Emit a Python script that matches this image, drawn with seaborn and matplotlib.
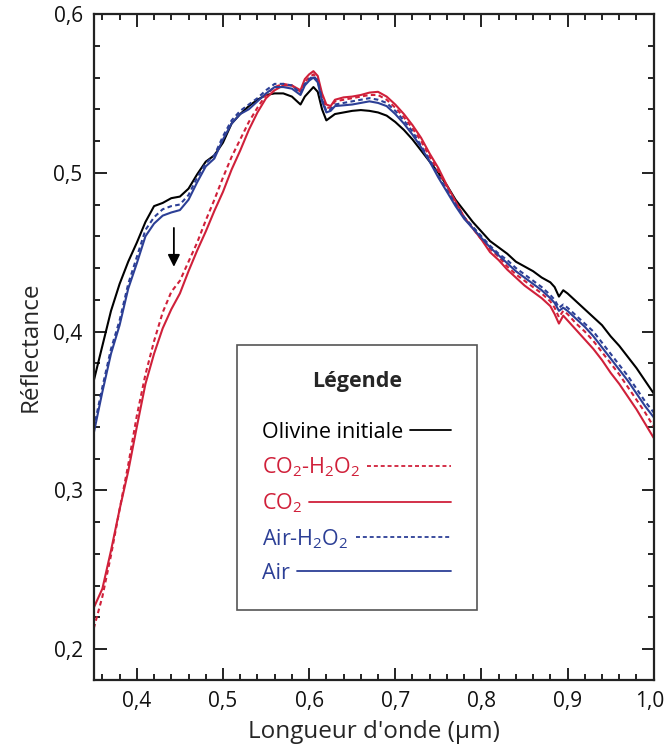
import pandas as pd
import matplotlib
matplotlib.use("Agg")
import matplotlib.pyplot as plt
import matplotlib.transforms as mtransforms
from matplotlib.lines import Line2D
from matplotlib.ticker import MultipleLocator, FuncFormatter
import seaborn as sns

# Longueurs d'onde (µm)
longueur_onde = [0.35, 0.36, 0.37, 0.38, 0.39, 0.40, 0.41, 0.42, 0.43, 0.44,
                 0.45, 0.46, 0.47, 0.48, 0.49, 0.50, 0.51, 0.52, 0.53, 0.54,
                 0.55, 0.56, 0.57, 0.58, 0.59, 0.595, 0.60, 0.605, 0.61, 0.615,
                 0.62, 0.625, 0.63, 0.64, 0.65, 0.66, 0.67, 0.68, 0.69, 0.70,
                 0.71, 0.72, 0.73, 0.74, 0.75, 0.76, 0.77, 0.78, 0.79, 0.80,
                 0.81, 0.82, 0.83, 0.84, 0.85, 0.86, 0.87, 0.88, 0.885, 0.89,
                 0.895, 0.90, 0.91, 0.92, 0.93, 0.94, 0.95, 0.96, 0.97, 0.98,
                 0.99, 1.00]

olivine_initiale = [0.369, 0.391, 0.413, 0.430, 0.444, 0.456, 0.469, 0.479, 0.481, 0.484,
                    0.485, 0.490, 0.499, 0.507, 0.511, 0.519, 0.531, 0.537, 0.542, 0.546,
                    0.549, 0.550, 0.550, 0.548, 0.543, 0.548, 0.551, 0.554, 0.551, 0.540,
                    0.533, 0.535, 0.537, 0.538, 0.539, 0.5395, 0.539, 0.538, 0.536, 0.532,
                    0.527, 0.521, 0.514, 0.507, 0.500, 0.492, 0.483, 0.476, 0.469, 0.463,
                    0.457, 0.453, 0.449, 0.444, 0.441, 0.438, 0.434, 0.431, 0.428, 0.422,
                    0.426, 0.424, 0.419, 0.414, 0.409, 0.404, 0.397, 0.391, 0.384, 0.377,
                    0.369, 0.361]

co2_h2o2 = [0.213, 0.233, 0.259, 0.288, 0.316, 0.347, 0.373, 0.394, 0.412, 0.425,
            0.432, 0.444, 0.456, 0.470, 0.483, 0.497, 0.510, 0.521, 0.532, 0.541,
            0.549, 0.554, 0.556, 0.555, 0.551, 0.557, 0.560, 0.562, 0.559, 0.548,
            0.541, 0.541, 0.545, 0.546, 0.547, 0.548, 0.549, 0.549, 0.546, 0.541,
            0.535, 0.528, 0.520, 0.510, 0.501, 0.491, 0.481, 0.472, 0.465, 0.458,
            0.452, 0.447, 0.441, 0.436, 0.432, 0.428, 0.424, 0.419, 0.415, 0.409,
            0.413, 0.411, 0.405, 0.400, 0.394, 0.387, 0.380, 0.373, 0.365, 0.357,
            0.349, 0.340]

co2 = [0.226, 0.238, 0.262, 0.288, 0.312, 0.340, 0.367, 0.386, 0.402, 0.414,
       0.424, 0.438, 0.451, 0.463, 0.476, 0.488, 0.502, 0.514, 0.527, 0.538,
       0.547, 0.552, 0.555, 0.555, 0.552, 0.559, 0.562, 0.564, 0.561, 0.550,
       0.543, 0.542, 0.546, 0.5475, 0.548, 0.549, 0.5505, 0.551, 0.548, 0.543,
       0.537, 0.530, 0.522, 0.512, 0.503, 0.492, 0.482, 0.472, 0.465, 0.458,
       0.450, 0.445, 0.439, 0.434, 0.429, 0.425, 0.421, 0.416, 0.411, 0.405,
       0.410, 0.407, 0.401, 0.395, 0.389, 0.382, 0.374, 0.367, 0.359, 0.351,
       0.342, 0.333]

air_h2o2 = [0.339, 0.365, 0.389, 0.407, 0.430, 0.447, 0.464, 0.472, 0.477, 0.479,
            0.480, 0.486, 0.497, 0.506, 0.511, 0.523, 0.533, 0.539, 0.543, 0.547,
            0.552, 0.556, 0.556, 0.555, 0.550, 0.556, 0.559, 0.561, 0.558, 0.546,
            0.539, 0.540, 0.543, 0.544, 0.545, 0.546, 0.547, 0.546, 0.544, 0.539,
            0.533, 0.526, 0.517, 0.508, 0.498, 0.489, 0.480, 0.472, 0.466, 0.460,
            0.454, 0.449, 0.445, 0.440, 0.436, 0.432, 0.428, 0.423, 0.420, 0.415,
            0.417, 0.415, 0.410, 0.405, 0.400, 0.393, 0.386, 0.379, 0.372, 0.364,
            0.356, 0.349]

air = [0.336, 0.362, 0.386, 0.404, 0.427, 0.443, 0.460, 0.468, 0.473, 0.475,
       0.4765, 0.483, 0.494, 0.504, 0.509, 0.521, 0.531, 0.537, 0.540, 0.545,
       0.550, 0.554, 0.554, 0.553, 0.549, 0.555, 0.558, 0.560, 0.557, 0.545,
       0.538, 0.539, 0.542, 0.5425, 0.543, 0.544, 0.545, 0.544, 0.542, 0.537,
       0.531, 0.524, 0.516, 0.507, 0.497, 0.488, 0.479, 0.471, 0.465, 0.459,
       0.453, 0.448, 0.443, 0.438, 0.434, 0.430, 0.426, 0.421, 0.418, 0.413,
       0.415, 0.413, 0.408, 0.403, 0.397, 0.390, 0.383, 0.376, 0.369, 0.361,
       0.353, 0.346]

series = ["Olivine initiale", "CO$_2$-H$_2$O$_2$", "CO$_2$", "Air-H$_2$O$_2$", "Air"]
valeurs = [olivine_initiale, co2_h2o2, co2, air_h2o2, air]

# Fleche (debut et fin)
fleche_x = 0.443
fleche_y_debut = 0.467
fleche_y_fin = 0.439

rouge = "#d0203a"
bleu = "#2c3f96"
couleurs = {series[0]: "black", series[1]: rouge, series[2]: rouge,
            series[3]: bleu, series[4]: bleu}
tirets = {series[0]: "", series[1]: (2.2, 1.6), series[2]: "",
          series[3]: (2.2, 1.6), series[4]: ""}

# Construire le tableau long
lignes = []
for nom, vals in zip(series, valeurs):
    for x, y in zip(longueur_onde, vals):
        lignes.append({"longueur": x, "reflectance": y, "serie": nom})
dados = pd.DataFrame(lignes)

sns.set_theme(style="ticks")
plt.rcParams["font.family"] = ["Open Sans", "DejaVu Sans"]
plt.rcParams["mathtext.fontset"] = "custom"
plt.rcParams["mathtext.rm"] = "Open Sans"
plt.rcParams["mathtext.it"] = "Open Sans"
plt.rcParams["mathtext.bf"] = "Open Sans:bold"
plt.rcParams["mathtext.default"] = "regular"

fig = plt.figure(figsize=(6.65, 7.46), dpi=100)
ax = fig.add_axes([0.141, 0.0885, 0.842, 0.8927])

sns.lineplot(data=dados, x="longueur", y="reflectance", hue="serie", style="serie",
             hue_order=series, style_order=series, palette=couleurs, dashes=tirets,
             linewidth=1.5, legend=False, ax=ax, sort=False)

ax.set_xlim(0.35, 1.0)
ax.set_ylim(0.1805, 0.6)
ax.xaxis.set_major_locator(MultipleLocator(0.1))
ax.xaxis.set_minor_locator(MultipleLocator(0.02))
ax.yaxis.set_major_locator(MultipleLocator(0.1))
ax.yaxis.set_minor_locator(MultipleLocator(0.02))
virgule = FuncFormatter(lambda v, p: f"{v:.1f}".replace(".", ","))
ax.xaxis.set_major_formatter(virgule)
ax.yaxis.set_major_formatter(virgule)

ax.tick_params(which="both", direction="in", top=True, right=True, colors="#111111",
               width=1.3)
ax.tick_params(which="major", length=9, labelsize=15, pad=8)
ax.tick_params(which="minor", length=4.5)
for s in ax.spines.values():
    s.set_linewidth(1.6)
    s.set_color("#222222")

ax.set_xlabel("Longueur d'onde (µm)", fontsize=17.5, labelpad=6)
ax.set_ylabel("Réflectance", fontsize=17.5, labelpad=8)

ax.annotate("", xy=(fleche_x, fleche_y_fin), xytext=(fleche_x, fleche_y_debut),
            arrowprops=dict(arrowstyle="-|>", color="black", lw=1.3, mutation_scale=18))

# Legende
poignees = [Line2D([], [], color=couleurs[n], lw=1.3,
                   linestyle=(0, tirets[n]) if tirets[n] else "-") for n in series]
leg = ax.legend(poignees, series, title="Légende\n", loc="upper left",
                bbox_to_anchor=(0.255, 0.503), borderaxespad=0, markerfirst=False,
                fontsize=15.5, handlelength=2.0, handletextpad=0.3, labelspacing=0.57,
                borderpad=1.2, fancybox=False, framealpha=1, edgecolor="#555555",
                labelcolor="linecolor", title_fontproperties={"weight": "bold", "size": 15.5})
leg.get_frame().set_linewidth(1.2)
leg.get_title().set_linespacing(0.8)

# Texte aligne a gauche, traits qui finissent tous au meme endroit
fig.canvas.draw()
rendu = fig.canvas.get_renderer()
largeur_ligne = 189 * 72 / fig.dpi
ecart = leg.handletextpad * leg._fontsize
colonne = leg._legend_handle_box.get_children()[0]
for item in colonne.get_children():
    texte, boite = item.get_children()
    w_txt = texte.get_window_extent(rendu).width * 72 / fig.dpi
    w = largeur_ligne - w_txt - ecart
    boite.width = w
    for art in boite.get_children():
        y0 = art.get_ydata()[0]
        art.set_data([0, w], [y0, y0])

# Decaler un peu le dernier label de l'axe x
for tick in ax.xaxis.get_major_ticks():
    if abs(tick.get_loc() - 1.0) < 1e-6:
        tick.label1.set_transform(tick.label1.get_transform() +
                                  mtransforms.ScaledTranslation(-3 / 72, 0, fig.dpi_scale_trans))

fig.savefig("out.png", dpi=100)
